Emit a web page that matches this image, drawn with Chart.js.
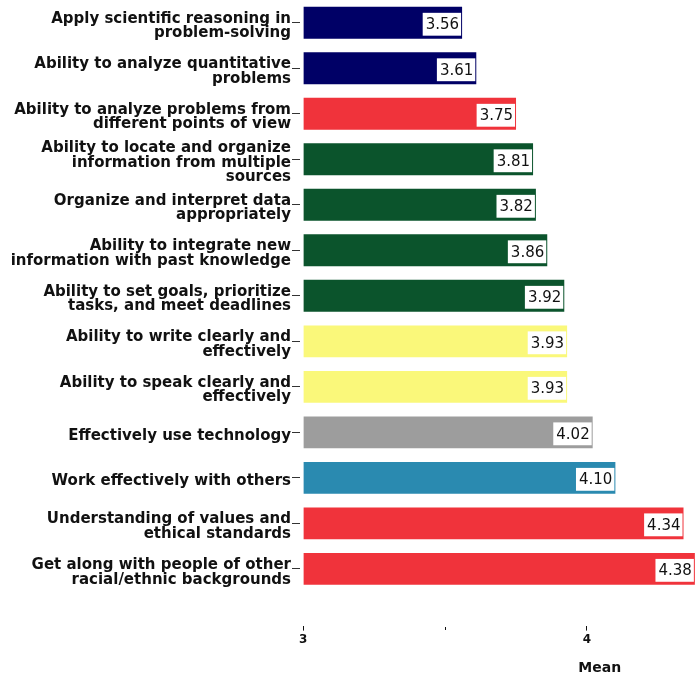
<!DOCTYPE html>
<html>
<head>
<meta charset="utf-8">
<script src="https://cdn.jsdelivr.net/npm/chart.js@4.4.1/dist/chart.umd.min.js"></script>
<style>
  html, body { margin: 0; padding: 0; background: #fff; }
  #wrap { width: 696px; height: 678px; }
</style>
</head>
<body>
<div id="wrap"><canvas id="chart"></canvas></div>
<script>
const skills = [
  ['Apply scientific reasoning in', 'problem-solving'],
  ['Ability to analyze quantitative', 'problems'],
  ['Ability to analyze problems from', 'different points of view'],
  ['Ability to locate and organize', 'information from multiple', 'sources'],
  ['Organize and interpret data', 'appropriately'],
  ['Ability to integrate new', 'information with past knowledge'],
  ['Ability to set goals, prioritize', 'tasks, and meet deadlines'],
  ['Ability to write clearly and', 'effectively'],
  ['Ability to speak clearly and', 'effectively'],
  'Effectively use technology',
  'Work effectively with others',
  ['Understanding of values and', 'ethical standards'],
  ['Get along with people of other', 'racial/ethnic backgrounds']
];
const means = [3.56, 3.61, 3.75, 3.81, 3.82, 3.86, 3.92, 3.93, 3.93, 4.02, 4.10, 4.34, 4.38];
const barColors = [
  '#000066', '#000066', '#f0333b', '#0b542c', '#0b542c', '#0b542c', '#0b542c',
  '#faf87a', '#faf87a', '#9d9d9d', '#2a8ab0', '#f0333b', '#f0333b'
];
const xTickValues = [3, 3.5, 4];
const axisTitle = 'Mean';

// white boxes with the value at the end of each bar
const valueBoxes = {
  id: 'valueBoxes',
  afterDatasetsDraw(chart) {
    const ctx = chart.ctx;
    const meta = chart.getDatasetMeta(0);
    ctx.save();
    ctx.font = '15px "DejaVu Sans"';
    ctx.textBaseline = 'middle';
    ctx.textAlign = 'left';
    meta.data.forEach((bar, i) => {
      const txt = means[i].toFixed(2);
      const w = ctx.measureText(txt).width + 5;
      const top = bar.y - bar.height / 2 + 6;
      const h = bar.height - 9;
      ctx.fillStyle = '#fff';
      ctx.fillRect(bar.x - 1 - w, top, w, h);
      ctx.fillStyle = '#111';
      ctx.fillText(txt, bar.x - w + 2, top + h / 2 + 1);
    });
    ctx.restore();
  }
};

// axis title sits under the "4" tick, not centred
const meanTitle = {
  id: 'meanTitle',
  afterDraw(chart) {
    const ctx = chart.ctx;
    const xs = chart.scales.x;
    ctx.save();
    ctx.font = 'bold 14px "DejaVu Sans"';
    ctx.fillStyle = '#111';
    ctx.textAlign = 'center';
    ctx.textBaseline = 'middle';
    ctx.fillText(axisTitle, xs.getPixelForValue(4.045), xs.bottom + 19);
    ctx.restore();
  }
};

new Chart(document.getElementById('chart'), {
  type: 'bar',
  data: {
    labels: skills,
    datasets: [{
      data: means,
      base: 3,
      backgroundColor: barColors,
      borderWidth: 0,
      categoryPercentage: 1,
      barPercentage: 0.7
    }]
  },
  options: {
    indexAxis: 'y',
    responsive: true,
    maintainAspectRatio: false,
    animation: false,
    layout: { padding: { top: 0, right: 0, left: 0, bottom: 29 } },
    plugins: {
      legend: { display: false },
      tooltip: { enabled: false }
    },
    scales: {
      x: {
        min: 2.989,
        max: 4.384,
        afterBuildTicks: (scale) => {
          scale.ticks = xTickValues.map(v => ({ value: v }));
        },
        afterFit: (scale) => { scale.paddingLeft = 0; scale.paddingRight = 0; },
        border: { display: false },
        grid: {
          drawOnChartArea: false,
          tickLength: 39,
          tickColor: '#111',
          tickBorderDash: (c) => (c.tick && c.tick.value === 3.5) ? [0, 35, 3, 200] : [0, 34, 6, 200]
        },
        ticks: {
          padding: 2,
          color: '#111',
          font: { family: 'DejaVu Sans', size: 12, weight: 'bold' },
          callback: (v) => (v === 3.5 ? '' : v)
        }
      },
      y: {
        afterFit: (scale) => {
          scale.width = 300;
          scale.paddingTop = 0;
          scale.paddingBottom = 0;
        },
        border: { display: false },
        grid: {
          offset: false,
          drawOnChartArea: false,
          tickLength: 8,
          tickColor: '#333'
        },
        ticks: {
          autoSkip: false,
          padding: 1,
          labelOffset: 3.5,
          color: '#111',
          font: { family: 'DejaVu Sans', size: 15, weight: 'bold', lineHeight: 0.97 }
        }
      }
    }
  },
  plugins: [valueBoxes, meanTitle]
});
</script>
</body>
</html>
